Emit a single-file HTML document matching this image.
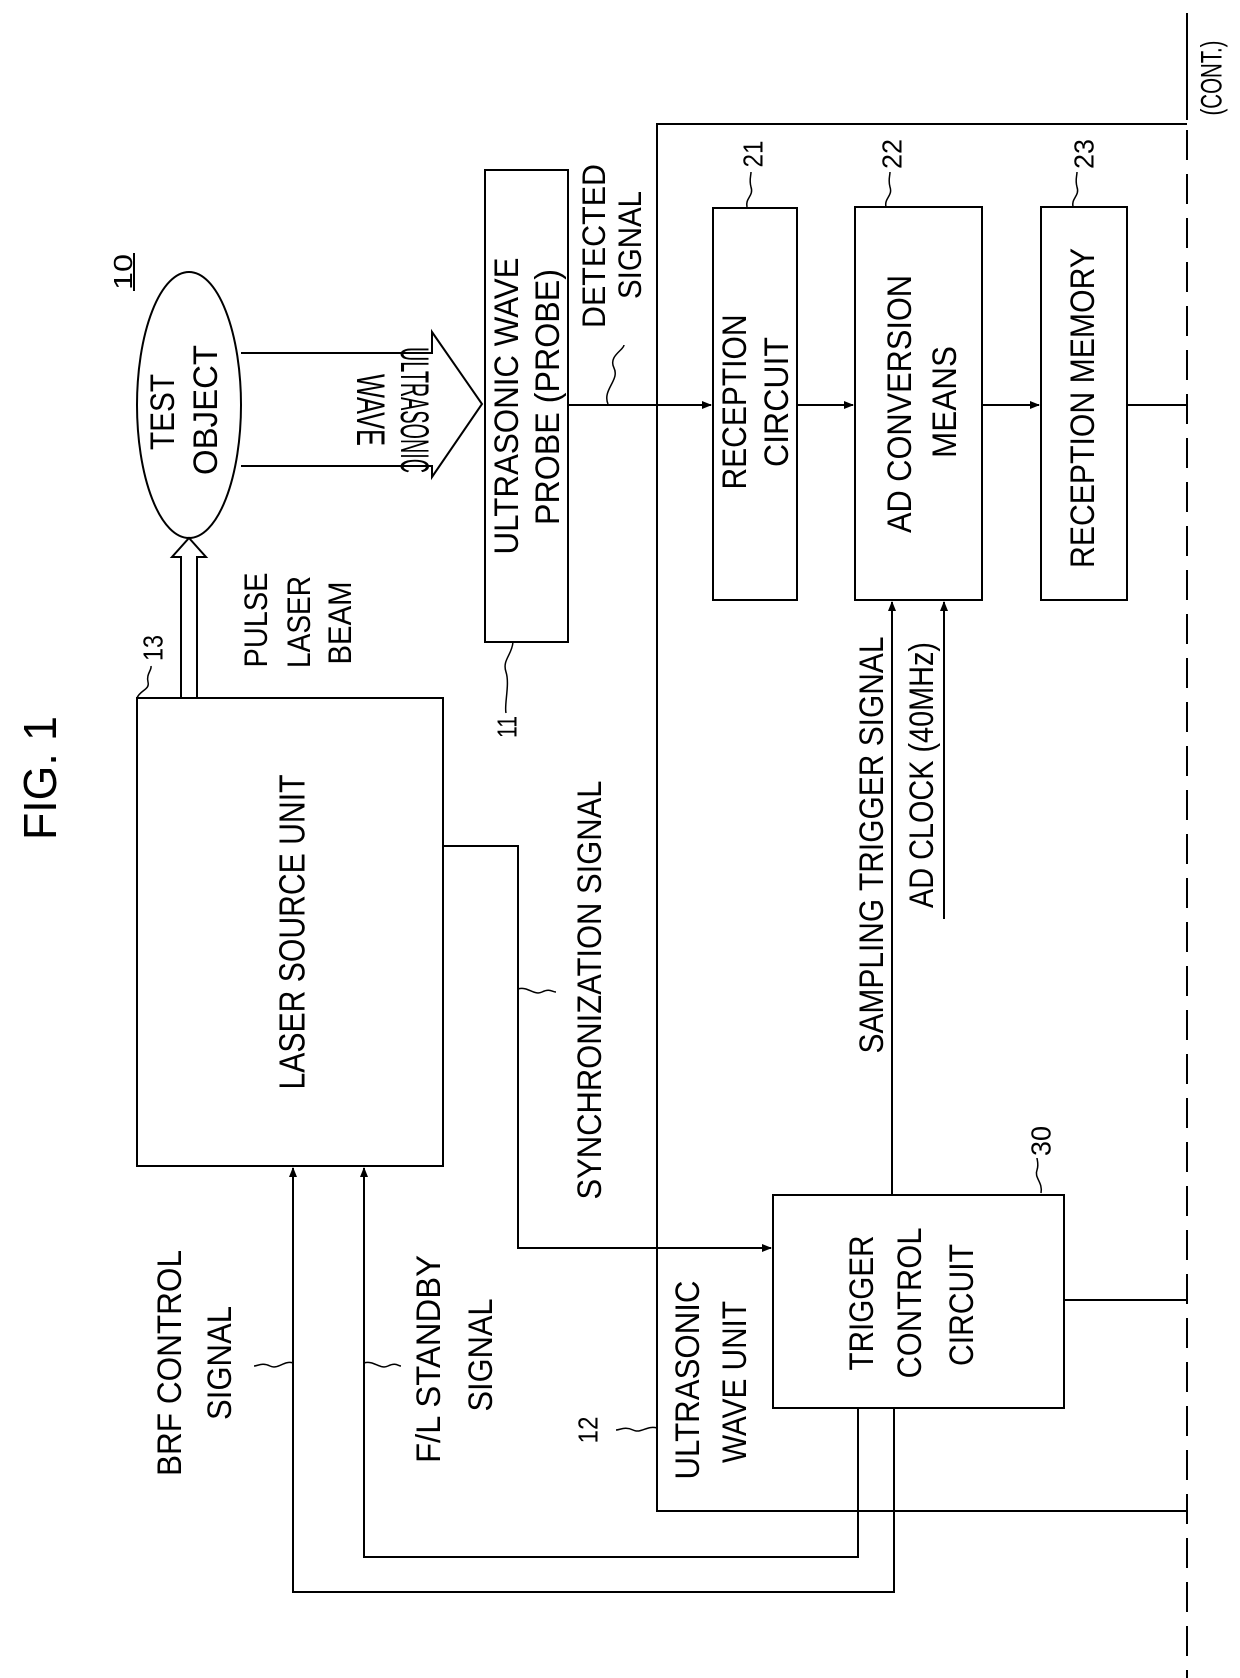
<!DOCTYPE html>
<html><head><meta charset="utf-8"><style>
html,body{margin:0;padding:0;background:#fff}
svg{display:block}
text{font-family:"Liberation Sans",sans-serif;fill:#000}
</style></head><body>
<svg width="1240" height="1678" viewBox="0 0 1240 1678" xmlns="http://www.w3.org/2000/svg">
<defs>
<marker id="a" markerWidth="10" markerHeight="10" refX="9" refY="5" orient="auto" markerUnits="userSpaceOnUse">
<path d="M0,1 L10,5 L0,9 Z" fill="#000"/></marker>
</defs>
<g stroke="#000" stroke-width="2" fill="none">
<ellipse cx="189" cy="405" rx="52" ry="133"/>
<path d="M241,353 L432,353 L432,332 L482,404 L432,477 L432,466 L241,466"/>
<path d="M181,698 L181,557 L172,557 L189,538 L206,557 L197,557 L197,698"/>
<rect x="485" y="170" width="83" height="472"/>
<rect x="713" y="208" width="84" height="392"/>
<rect x="855" y="207" width="127" height="393"/>
<rect x="1041" y="207" width="86" height="393"/>
<rect x="137" y="698" width="306" height="468"/>
<rect x="773" y="1195" width="291" height="213"/>
<path d="M1187,124 L657,124 L657,1511 L1187,1511"/>
<path d="M568,405 L711,405" marker-end="url(#a)"/>
<path d="M797,405 L853,405" marker-end="url(#a)"/>
<path d="M982,405 L1039,405" marker-end="url(#a)"/>
<path d="M1127,405 L1187,405"/>
<path d="M443,846 L518,846 L518,1248 L771,1248" marker-end="url(#a)"/>
<path d="M892,1195 L892,602" marker-end="url(#a)"/>
<path d="M944,919 L944,602" marker-end="url(#a)"/>
<path d="M1064,1300 L1187,1300"/>
<path d="M858,1408 L858,1557 L364,1557 L364,1168" marker-end="url(#a)"/>
<path d="M894,1408 L894,1592 L293,1592 L293,1168" marker-end="url(#a)"/>
<path d="M1187,13 L1187,120"/>
<path d="M1187,130 L1187,1678" stroke-dasharray="30,14"/>
<path d="M134,253 L134,291"/>
<path d="M608,404 C602,390 620,380 614,368 C608,356 624,350 624,345" stroke-width="1.5"/>
<path d="M137,698 C140,690 150,690 148,682 C146,674 152,670 151,666" stroke-width="1.5"/>
<path d="M513,642 C512,655 502,660 506,672 C510,684 504,705 506,713" stroke-width="1.5"/>
<path d="M747,207 C745,198 754,196 751,187 C749,180 751,176 751,172" stroke-width="1.5"/>
<path d="M886,207 C884,198 893,196 890,187 C888,180 890,176 890,172" stroke-width="1.5"/>
<path d="M1073,207 C1071,198 1080,196 1077,187 C1075,180 1077,176 1077,172" stroke-width="1.5"/>
<path d="M1041,1193 C1043,1182 1034,1178 1037,1170 C1039,1164 1037,1160 1037,1158" stroke-width="1.5"/>
<path d="M293,1363 C284,1360 278,1370 270,1366 C262,1362 258,1366 254,1366" stroke-width="1.5"/>
<path d="M364,1363 C374,1360 380,1370 388,1366 C396,1362 398,1366 401,1366" stroke-width="1.5"/>
<path d="M518,989 C528,986 534,996 542,992 C550,988 552,992 556,992" stroke-width="1.5"/>
<path d="M657,1428 C647,1425 641,1434 633,1430 C625,1426 620,1430 616,1430" stroke-width="1.5"/>
</g>
<g font-size="36">
<text transform="translate(40,778) rotate(-90)" text-anchor="middle" dominant-baseline="central" font-size="46" textLength="124" lengthAdjust="spacingAndGlyphs">FIG. 1</text>
<text transform="translate(123,272) rotate(-90)" text-anchor="middle" dominant-baseline="central" font-size="26" textLength="36" lengthAdjust="spacingAndGlyphs">10</text>
<text transform="translate(163,412) rotate(-90)" text-anchor="middle" dominant-baseline="central" font-size="34" textLength="76" lengthAdjust="spacingAndGlyphs">TEST</text>
<text transform="translate(206,410) rotate(-90)" text-anchor="middle" dominant-baseline="central" font-size="34" textLength="130" lengthAdjust="spacingAndGlyphs">OBJECT</text>
<text transform="translate(414,410) rotate(90)" text-anchor="middle" dominant-baseline="central" font-size="40" textLength="126" lengthAdjust="spacingAndGlyphs">ULTRASONIC</text>
<text transform="translate(370,410) rotate(90)" text-anchor="middle" dominant-baseline="central" font-size="40" textLength="72" lengthAdjust="spacingAndGlyphs">WAVE</text>
<text transform="translate(507,406) rotate(-90)" text-anchor="middle" dominant-baseline="central" font-size="34" textLength="297" lengthAdjust="spacingAndGlyphs">ULTRASONIC WAVE</text>
<text transform="translate(548,397) rotate(-90)" text-anchor="middle" dominant-baseline="central" font-size="34" textLength="256" lengthAdjust="spacingAndGlyphs">PROBE (PROBE)</text>
<text transform="translate(594,246) rotate(-90)" text-anchor="middle" dominant-baseline="central" font-size="32" textLength="164" lengthAdjust="spacingAndGlyphs">DETECTED</text>
<text transform="translate(630,245) rotate(-90)" text-anchor="middle" dominant-baseline="central" font-size="32" textLength="108" lengthAdjust="spacingAndGlyphs">SIGNAL</text>
<text transform="translate(256,620) rotate(-90)" text-anchor="middle" dominant-baseline="central" font-size="32" textLength="95" lengthAdjust="spacingAndGlyphs">PULSE</text>
<text transform="translate(299,622) rotate(-90)" text-anchor="middle" dominant-baseline="central" font-size="32" textLength="92" lengthAdjust="spacingAndGlyphs">LASER</text>
<text transform="translate(340,623) rotate(-90)" text-anchor="middle" dominant-baseline="central" font-size="32" textLength="83" lengthAdjust="spacingAndGlyphs">BEAM</text>
<text transform="translate(153,648) rotate(-90)" text-anchor="middle" dominant-baseline="central" font-size="28" textLength="26" lengthAdjust="spacingAndGlyphs">13</text>
<text transform="translate(507,727) rotate(-90)" text-anchor="middle" dominant-baseline="central" font-size="28" textLength="22" lengthAdjust="spacingAndGlyphs">11</text>
<text transform="translate(753,154) rotate(-90)" text-anchor="middle" dominant-baseline="central" font-size="28" textLength="27" lengthAdjust="spacingAndGlyphs">21</text>
<text transform="translate(892,154) rotate(-90)" text-anchor="middle" dominant-baseline="central" font-size="28" textLength="30" lengthAdjust="spacingAndGlyphs">22</text>
<text transform="translate(1084,154) rotate(-90)" text-anchor="middle" dominant-baseline="central" font-size="28" textLength="30" lengthAdjust="spacingAndGlyphs">23</text>
<text transform="translate(735,402) rotate(-90)" text-anchor="middle" dominant-baseline="central" font-size="34" textLength="175" lengthAdjust="spacingAndGlyphs">RECEPTION</text>
<text transform="translate(777,402) rotate(-90)" text-anchor="middle" dominant-baseline="central" font-size="34" textLength="130" lengthAdjust="spacingAndGlyphs">CIRCUIT</text>
<text transform="translate(900,404) rotate(-90)" text-anchor="middle" dominant-baseline="central" font-size="34" textLength="258" lengthAdjust="spacingAndGlyphs">AD CONVERSION</text>
<text transform="translate(945,402) rotate(-90)" text-anchor="middle" dominant-baseline="central" font-size="34" textLength="112" lengthAdjust="spacingAndGlyphs">MEANS</text>
<text transform="translate(1083,408) rotate(-90)" text-anchor="middle" dominant-baseline="central" font-size="34" textLength="320" lengthAdjust="spacingAndGlyphs">RECEPTION MEMORY</text>
<text transform="translate(1212,78) rotate(-90)" text-anchor="middle" dominant-baseline="central" font-size="30" textLength="75" lengthAdjust="spacingAndGlyphs">(CONT.)</text>
<text transform="translate(292,932) rotate(-90)" text-anchor="middle" dominant-baseline="central" font-size="36" textLength="315" lengthAdjust="spacingAndGlyphs">LASER SOURCE UNIT</text>
<text transform="translate(590,990) rotate(-90)" text-anchor="middle" dominant-baseline="central" font-size="34" textLength="419" lengthAdjust="spacingAndGlyphs">SYNCHRONIZATION SIGNAL</text>
<text transform="translate(872,845) rotate(-90)" text-anchor="middle" dominant-baseline="central" font-size="34" textLength="417" lengthAdjust="spacingAndGlyphs">SAMPLING TRIGGER SIGNAL</text>
<text transform="translate(922,775) rotate(-90)" text-anchor="middle" dominant-baseline="central" font-size="34" textLength="266" lengthAdjust="spacingAndGlyphs">AD CLOCK (40MHz)</text>
<text transform="translate(862,1303) rotate(-90)" text-anchor="middle" dominant-baseline="central" font-size="34" textLength="135" lengthAdjust="spacingAndGlyphs">TRIGGER</text>
<text transform="translate(910,1303) rotate(-90)" text-anchor="middle" dominant-baseline="central" font-size="34" textLength="151" lengthAdjust="spacingAndGlyphs">CONTROL</text>
<text transform="translate(962,1305) rotate(-90)" text-anchor="middle" dominant-baseline="central" font-size="34" textLength="122" lengthAdjust="spacingAndGlyphs">CIRCUIT</text>
<text transform="translate(688,1380) rotate(-90)" text-anchor="middle" dominant-baseline="central" font-size="34" textLength="199" lengthAdjust="spacingAndGlyphs">ULTRASONIC</text>
<text transform="translate(735,1382) rotate(-90)" text-anchor="middle" dominant-baseline="central" font-size="34" textLength="162" lengthAdjust="spacingAndGlyphs">WAVE UNIT</text>
<text transform="translate(170,1363) rotate(-90)" text-anchor="middle" dominant-baseline="central" font-size="34" textLength="226" lengthAdjust="spacingAndGlyphs">BRF CONTROL</text>
<text transform="translate(220,1363) rotate(-90)" text-anchor="middle" dominant-baseline="central" font-size="34" textLength="114" lengthAdjust="spacingAndGlyphs">SIGNAL</text>
<text transform="translate(429,1359) rotate(-90)" text-anchor="middle" dominant-baseline="central" font-size="34" textLength="208" lengthAdjust="spacingAndGlyphs">F/L STANDBY</text>
<text transform="translate(481,1355) rotate(-90)" text-anchor="middle" dominant-baseline="central" font-size="34" textLength="113" lengthAdjust="spacingAndGlyphs">SIGNAL</text>
<text transform="translate(588,1430) rotate(-90)" text-anchor="middle" dominant-baseline="central" font-size="28" textLength="27" lengthAdjust="spacingAndGlyphs">12</text>
<text transform="translate(1041,1141) rotate(-90)" text-anchor="middle" dominant-baseline="central" font-size="28" textLength="30" lengthAdjust="spacingAndGlyphs">30</text>
</g>
</svg>
</body></html>
